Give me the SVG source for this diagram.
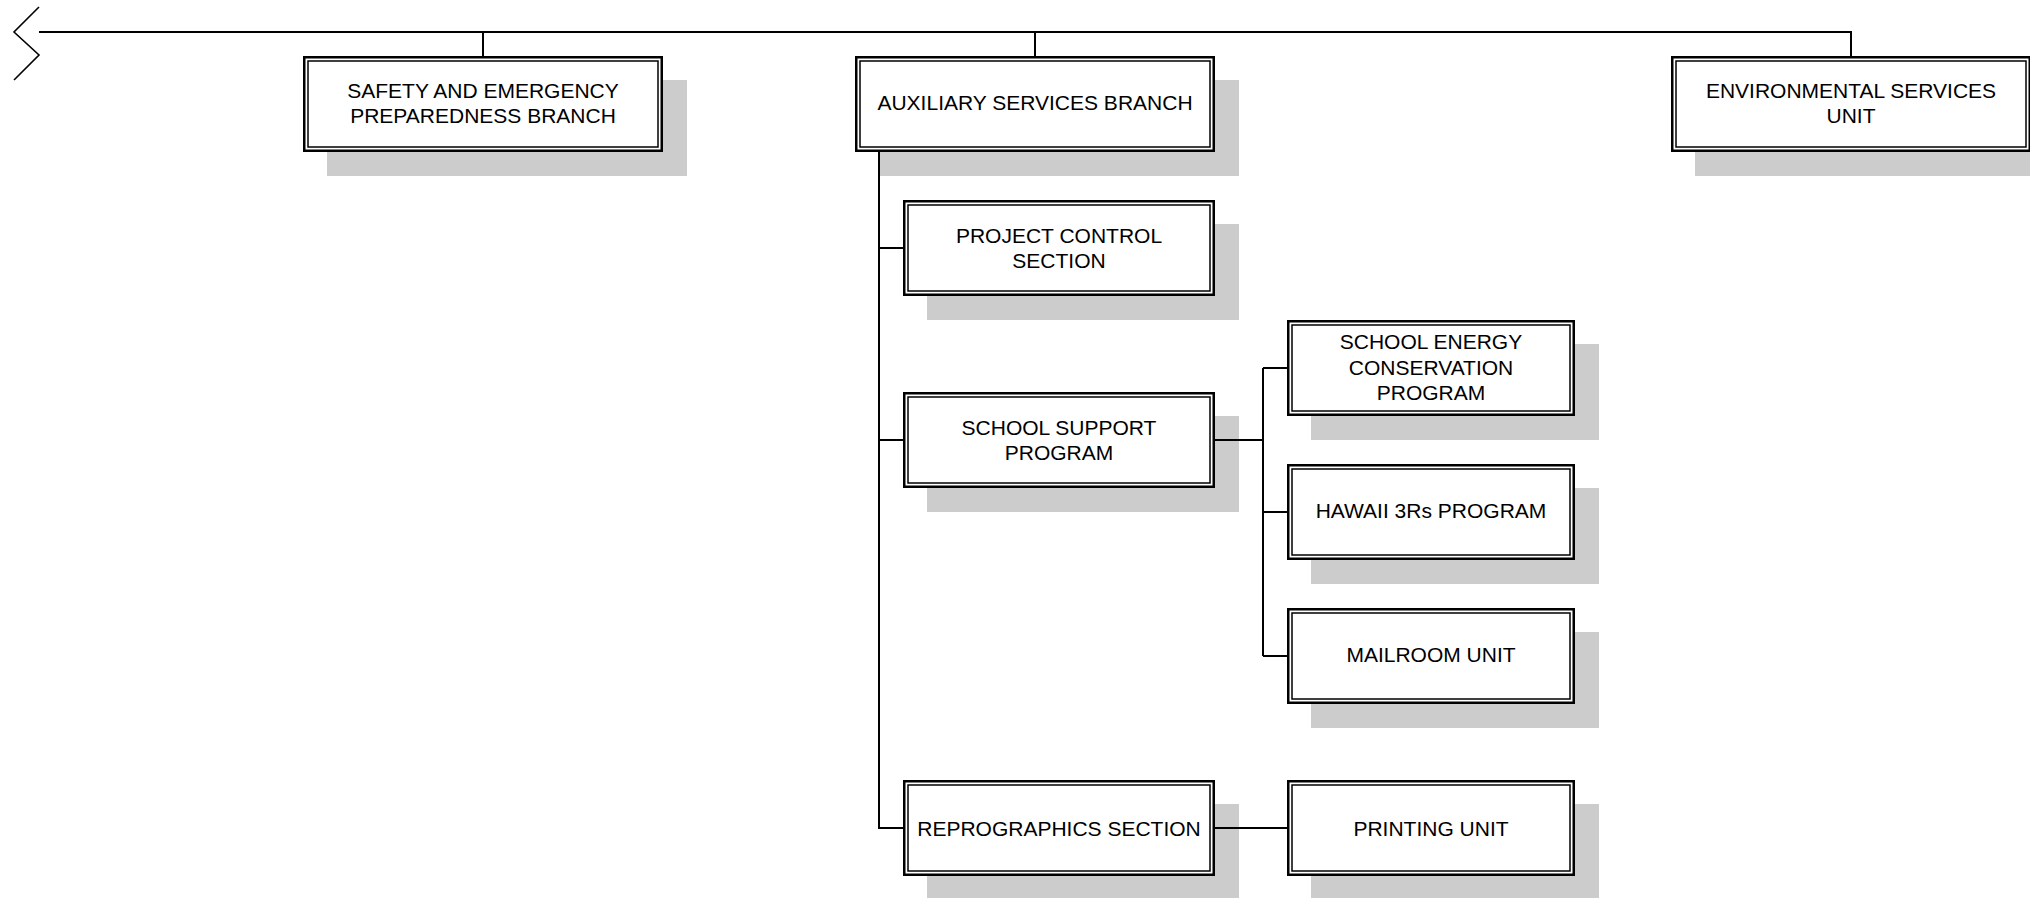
<svg xmlns="http://www.w3.org/2000/svg" width="2030" height="898" viewBox="0 0 2030 898">
  <style>
    .shadow { fill: #cccccc; stroke: none; }
    .outer { fill: #ffffff; stroke: #000000; stroke-width: 2.5; }
    .inner { fill: none; stroke: #000000; stroke-width: 1.5; }
    .label { font-family: "Liberation Sans", Arial, sans-serif; font-size: 21px; fill: #000000; text-anchor: middle; }
    .wire { fill: none; stroke: #000000; stroke-width: 2; }
    .break { fill: none; stroke: #000000; stroke-width: 1.6; }
  </style>
  <rect width="2030" height="898" fill="#ffffff"/>

  <!-- top-level units -->
  <g id="safety">
    <rect class="shadow" x="327" y="80" width="360" height="96"/>
    <rect class="outer" x="304.25" y="57.25" width="357.5" height="93.5"/>
    <rect class="inner" x="308" y="61" width="350" height="86"/>
    <text class="label" x="483" y="97.5">SAFETY AND EMERGENCY</text>
    <text class="label" x="483" y="123">PREPAREDNESS BRANCH</text>
  </g>

  <g id="auxiliary">
    <rect class="shadow" x="879" y="80" width="360" height="96"/>
    <rect class="outer" x="856.25" y="57.25" width="357.5" height="93.5"/>
    <rect class="inner" x="860" y="61" width="350" height="86"/>
    <text class="label" x="1035" y="110">AUXILIARY SERVICES BRANCH</text>
  </g>

  <g id="environmental">
    <rect class="shadow" x="1695" y="80" width="360" height="96"/>
    <rect class="outer" x="1672.25" y="57.25" width="357.5" height="93.5"/>
    <rect class="inner" x="1676" y="61" width="350" height="86"/>
    <text class="label" x="1851" y="97.5">ENVIRONMENTAL SERVICES</text>
    <text class="label" x="1851" y="123">UNIT</text>
  </g>

  <!-- auxiliary services sections -->
  <g id="project-control">
    <rect class="shadow" x="927" y="224" width="312" height="96"/>
    <rect class="outer" x="904.25" y="201.25" width="309.5" height="93.5"/>
    <rect class="inner" x="908" y="205" width="302" height="86"/>
    <text class="label" x="1059" y="243">PROJECT CONTROL</text>
    <text class="label" x="1059" y="268">SECTION</text>
  </g>

  <g id="school-support">
    <rect class="shadow" x="927" y="416" width="312" height="96"/>
    <rect class="outer" x="904.25" y="393.25" width="309.5" height="93.5"/>
    <rect class="inner" x="908" y="397" width="302" height="86"/>
    <text class="label" x="1059" y="435">SCHOOL SUPPORT</text>
    <text class="label" x="1059" y="460">PROGRAM</text>
  </g>

  <g id="reprographics">
    <rect class="shadow" x="927" y="804" width="312" height="96"/>
    <rect class="outer" x="904.25" y="781.25" width="309.5" height="93.5"/>
    <rect class="inner" x="908" y="785" width="302" height="86"/>
    <text class="label" x="1059" y="835.5">REPROGRAPHICS SECTION</text>
  </g>

  <!-- programs and units -->
  <g id="energy-conservation">
    <rect class="shadow" x="1311" y="344" width="288" height="96"/>
    <rect class="outer" x="1288.25" y="321.25" width="285.5" height="93.5"/>
    <rect class="inner" x="1292" y="325" width="278" height="86"/>
    <text class="label" x="1431" y="349">SCHOOL ENERGY</text>
    <text class="label" x="1431" y="374.5">CONSERVATION</text>
    <text class="label" x="1431" y="399.5">PROGRAM</text>
  </g>

  <g id="hawaii-3rs">
    <rect class="shadow" x="1311" y="488" width="288" height="96"/>
    <rect class="outer" x="1288.25" y="465.25" width="285.5" height="93.5"/>
    <rect class="inner" x="1292" y="469" width="278" height="86"/>
    <text class="label" x="1431" y="517.5">HAWAII 3Rs PROGRAM</text>
  </g>

  <g id="mailroom">
    <rect class="shadow" x="1311" y="632" width="288" height="96"/>
    <rect class="outer" x="1288.25" y="609.25" width="285.5" height="93.5"/>
    <rect class="inner" x="1292" y="613" width="278" height="86"/>
    <text class="label" x="1431" y="661.5">MAILROOM UNIT</text>
  </g>

  <g id="printing">
    <rect class="shadow" x="1311" y="804" width="288" height="96"/>
    <rect class="outer" x="1288.25" y="781.25" width="285.5" height="93.5"/>
    <rect class="inner" x="1292" y="785" width="278" height="86"/>
    <text class="label" x="1431" y="835.5">PRINTING UNIT</text>
  </g>

  <!-- connectors, drawn over the drop shadows -->
  <g id="connectors">
    <polyline class="break" points="39,7 14,32 39,55 14,80"/>
    <path class="wire" d="M39,32 H1851 V56"/>
    <path class="wire" d="M483,32 V56"/>
    <path class="wire" d="M1035,32 V56"/>
    <path class="wire" d="M879,152 V828 H903"/>
    <path class="wire" d="M879,248 H903"/>
    <path class="wire" d="M879,440 H903"/>
    <path class="wire" d="M1215,440 H1263"/>
    <path class="wire" d="M1263,368 V656"/>
    <path class="wire" d="M1263,368 H1287"/>
    <path class="wire" d="M1263,512 H1287"/>
    <path class="wire" d="M1263,656 H1287"/>
    <path class="wire" d="M1215,828 H1287"/>
  </g>
</svg>
